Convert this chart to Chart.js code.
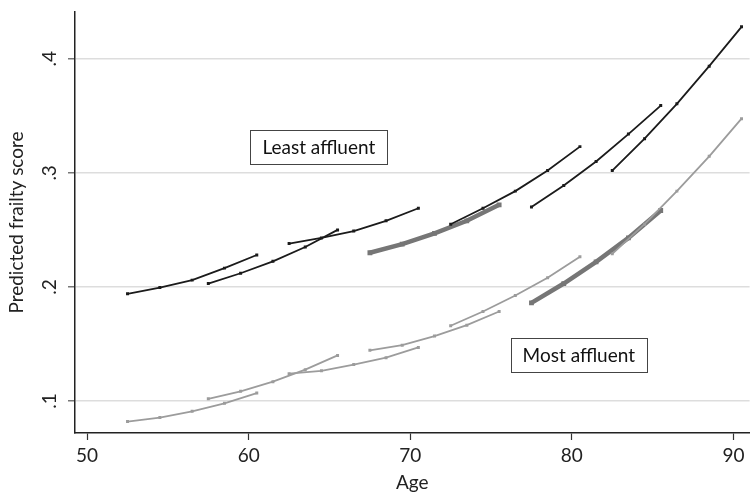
<!DOCTYPE html>
<html>
<head>
<meta charset="utf-8">
<script src="https://cdn.jsdelivr.net/npm/chart.js@4.4.1/dist/chart.umd.min.js"></script>
<style>
  html, body { margin: 0; padding: 0; background: #fff; }
  #wrap { width: 753px; height: 494px; }
</style>
</head>
<body>
<div id="wrap"><canvas id="c" width="753" height="494"></canvas></div>
<script>
// ---- Data ----
const ages1 = [52.5, 54.5, 56.5, 58.5, 60.5];
const ages2 = [57.5, 59.5, 61.5, 63.5, 65.5];
const ages3 = [62.5, 64.5, 66.5, 68.5, 70.5];
const ages4 = [67.5, 69.5, 71.5, 73.5, 75.5];
const ages5 = [72.5, 74.5, 76.5, 78.5, 80.5];
const ages6 = [77.5, 79.5, 81.5, 83.5, 85.5];
const ages7 = [82.5, 84.5, 86.5, 88.5, 90.5];

// Least affluent (black)
const least1 = [0.194, 0.1995, 0.206, 0.2165, 0.228];
const least2 = [0.203, 0.212, 0.2225, 0.235, 0.250];
const least3 = [0.238, 0.243, 0.249, 0.258, 0.269];
const least5 = [0.255, 0.269, 0.284, 0.302, 0.323];
const least6 = [0.270, 0.289, 0.310, 0.334, 0.359];
const least7 = [0.302, 0.330, 0.3605, 0.3935, 0.428];

// Most affluent (light grey)
const most1 = [0.082, 0.0855, 0.091, 0.098, 0.107];
const most2 = [0.102, 0.1085, 0.117, 0.1275, 0.140];
const most3 = [0.124, 0.1265, 0.132, 0.138, 0.147];
const most4 = [0.1445, 0.149, 0.157, 0.1665, 0.1785];
const most5 = [0.166, 0.1785, 0.1925, 0.208, 0.2265];
const most7 = [0.229, 0.255, 0.284, 0.3145, 0.3475];

// Highlighted cohorts (thick grey)
const thickLeast4 = [0.230, 0.2375, 0.247, 0.258, 0.272];
const thickMost6 = [0.186, 0.203, 0.222, 0.243, 0.267];

const xTicks = [50, 60, 70, 80, 90];
const yTicks = [0.1, 0.2, 0.3, 0.4];
const yTickLabels = ['.1', '.2', '.3', '.4'];

const annotations = [
  { text: 'Least affluent', x: 64.34, y: 0.3224 },
  { text: 'Most affluent', x: 80.43, y: 0.1405 }
];

// ---- Build datasets ----
const FONT = 'Lato, "Open Sans", sans-serif';
const FS = 19;
function pts(xs, ys) { return xs.map((x, i) => ({ x: x, y: ys[i] })); }
function thin(xs, ys, color) {
  return { data: pts(xs, ys), borderColor: color, backgroundColor: color,
    borderWidth: 1.8, pointStyle: 'rect', pointRadius: 2.1, pointBorderWidth: 0,
    pointHoverRadius: 0, tension: 0, order: 1 };
}
function thick(xs, ys, color) {
  return { data: pts(xs, ys), borderColor: color, backgroundColor: color,
    borderWidth: 4.5, pointStyle: 'rect', pointRadius: 3.4, pointBorderWidth: 0,
    pointHoverRadius: 0, tension: 0, order: 2 };
}
const BLACK = '#1b1b1b', GREY = '#9c9c9c', THICK = '#767676';
const datasets = [
  thin(ages1, least1, BLACK), thin(ages2, least2, BLACK), thin(ages3, least3, BLACK),
  thin(ages5, least5, BLACK), thin(ages6, least6, BLACK), thin(ages7, least7, BLACK),
  thin(ages1, most1, GREY), thin(ages2, most2, GREY), thin(ages3, most3, GREY),
  thin(ages4, most4, GREY), thin(ages5, most5, GREY), thin(ages7, most7, GREY),
  thick(ages4, thickLeast4, THICK), thick(ages6, thickMost6, THICK)
];

const bgPlugin = {
  id: 'bg',
  beforeDraw(chart) {
    const c = chart.ctx; c.save(); c.fillStyle = '#fff';
    c.fillRect(0, 0, chart.width, chart.height); c.restore();
  }
};

const yLabelPlugin = {
  id: 'ylabels',
  afterDraw(chart) {
    const c = chart.ctx, ys = chart.scales.y;
    c.save();
    c.fillStyle = '#222';
    c.font = FS + 'px ' + FONT;
    c.textAlign = 'center';
    c.textBaseline = 'middle';
    yTicks.forEach((v, i) => {
      const py = ys.getPixelForValue(v);
      c.save();
      c.translate(50, py);
      c.rotate(-Math.PI / 2);
      c.fillText(yTickLabels[i], 0, 0);
      c.restore();
    });
    c.restore();
  }
};

const boxPlugin = {
  id: 'boxes',
  afterDatasetsDraw(chart) {
    const c = chart.ctx, xs = chart.scales.x, ys = chart.scales.y;
    c.save();
    c.font = FS + 'px ' + FONT;
    c.textAlign = 'center';
    c.textBaseline = 'middle';
    annotations.forEach(a => {
      const px = xs.getPixelForValue(a.x), py = ys.getPixelForValue(a.y);
      const w = c.measureText(a.text).width + 24, h = 34;
      c.fillStyle = '#fff';
      c.fillRect(px - w / 2, py - h / 2, w, h);
      c.strokeStyle = '#444'; c.lineWidth = 1;
      c.strokeRect(Math.round(px - w / 2) + 0.5, Math.round(py - h / 2) + 0.5, Math.round(w), h);
      c.fillStyle = '#111';
      c.fillText(a.text, px, py + 1);
    });
    c.restore();
  }
};

new Chart(document.getElementById('c'), {
  type: 'line',
  data: { datasets: datasets },
  plugins: [bgPlugin, yLabelPlugin, boxPlugin],
  options: {
    responsive: false,
    animation: false,
    events: [],
    layout: { padding: { top: 12, right: 0, left: 0, bottom: 0 } },
    plugins: { legend: { display: false }, tooltip: { enabled: false } },
    scales: {
      x: {
        type: 'linear', min: 49.25, max: 91,
        afterBuildTicks: s => { s.ticks = xTicks.map(v => ({ value: v })); },
        afterFit: s => { s.height = 61; },
        grid: { display: true, drawOnChartArea: false, drawTicks: true, tickLength: 7, tickColor: '#333', tickWidth: 1.2 },
        border: { display: true, color: '#222', width: 1.5 },
        ticks: { color: '#222', font: { family: FONT, size: FS }, padding: 4, maxRotation: 0, autoSkip: false },
        title: { display: true, text: 'Age', color: '#222', font: { family: FONT, size: FS }, padding: { top: 0, bottom: 0 } }
      },
      y: {
        type: 'linear', min: 0.072, max: 0.441,
        afterBuildTicks: s => { s.ticks = yTicks.map(v => ({ value: v })); },
        afterFit: s => { s.width = 75; },
        grid: { display: true, drawOnChartArea: true, color: '#dddddd', lineWidth: 1.6, drawTicks: true, tickLength: 7, tickColor: '#555', tickWidth: 1.2 },
        border: { display: true, color: '#222', width: 1.5 },
        ticks: { display: false },
        title: { display: true, text: 'Predicted frailty score', color: '#222', font: { family: FONT, size: FS }, padding: { top: 5, bottom: 0 } }
      }
    }
  }
});
</script>
</body>
</html>
